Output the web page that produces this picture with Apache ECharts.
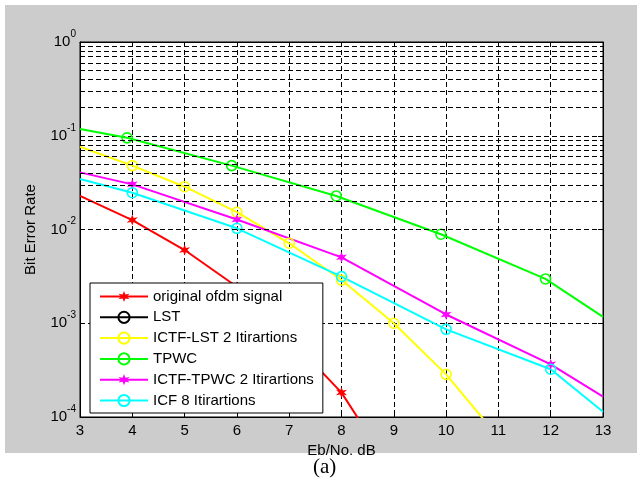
<!DOCTYPE html>
<html>
<head>
<meta charset="utf-8">
<script src="https://cdn.jsdelivr.net/npm/echarts@6/dist/echarts.min.js"></script>
<style>
  html, body { margin: 0; padding: 0; background: #fff; }
  #frame { position: absolute; left: 5px; top: 5px; width: 632px; height: 448px; background: #cccccc; }
  #main { position: absolute; left: 0; top: 0; width: 637px; height: 481px; }
</style>
</head>
<body>
<div id="frame"></div>
<div id="main"></div>
<script>
// BER curves (x = Eb/No in dB)
var origX = [3, 4, 5, 6, 7, 8, 9];
var origY = [0.0228, 0.0126, 0.00604, 0.00245, 0.0007, 0.000182, 0.000025];
var lstX = [];
var lstY = [];
var ictfLstX = [3, 4, 5, 6, 7, 8, 9, 10, 11];
var ictfLstY = [0.0764, 0.048, 0.0286, 0.0153, 0.00713, 0.00289, 0.001, 0.000285, 0.000061];
var tpwcX = [3, 3.9, 5.9, 7.9, 9.9, 11.9, 13];
var tpwcY = [0.118, 0.095, 0.048, 0.0228, 0.0089, 0.00297, 0.00117];
var ictfTpwcX = [3, 4, 6, 8, 10, 12, 13];
var ictfTpwcY = [0.0407, 0.0303, 0.0128, 0.00505, 0.00124, 0.000365, 0.000165];
var icfX = [3, 4, 6, 8, 10, 12, 13];
var icfY = [0.0346, 0.0247, 0.0103, 0.00314, 0.000861, 0.000323, 0.000114];

// minor log grid lines (2..9 per decade)
var minorGrid = [];
[1e-4, 1e-3, 1e-2, 1e-1].forEach(function (d) {
  for (var k = 2; k <= 9; k++) minorGrid.push(+(d * k).toPrecision(3));
});

var font = "Arial, 'Liberation Sans', sans-serif";
var dash = [5, 3];

// six point star, stands in for matlab's '*' marker
var star = (function () {
  var pts = [];
  for (var i = 0; i < 12; i++) {
    var r = i % 2 ? 0.42 : 1;
    var a = Math.PI / 6 * i - Math.PI / 2;
    pts.push((r * Math.cos(a)).toFixed(3) + ' ' + (r * Math.sin(a)).toFixed(3));
  }
  return 'path://M' + pts.join(' L') + ' Z';
})();

function points (xs, ys) {
  // no marker on the first point and on the last one
  return xs.map(function (x, i) {
    var item = { value: [x, ys[i]] };
    if (i === 0 || i === xs.length - 1) item.symbol = 'none';
    return item;
  });
}

function curve (name, color, xs, ys, marker) {
  var circle = marker === 'o';
  return {
    name: name,
    type: 'line',
    data: points(xs, ys),
    symbol: circle ? 'circle' : star,
    symbolSize: circle ? 10 : 11,
    lineStyle: { color: color, width: 2 },
    itemStyle: circle
      ? { color: 'rgba(255,255,255,0)', borderColor: color, borderWidth: 1.6 }
      : { color: color, borderWidth: 0 },
    z: 3
  };
}

var chart = echarts.init(document.getElementById('main'));

var option = {
  animation: false,
  textStyle: { fontFamily: font },
  grid: {
    left: 80, top: 42, width: 523, height: 375,
    show: true, backgroundColor: '#fff', borderColor: '#000', borderWidth: 1
  },
  legend: {
    orient: 'vertical',
    left: 90, top: 283,
    padding: [6, 9, 5, 9],
    itemWidth: 48, itemHeight: 14, itemGap: 5.8,
    backgroundColor: '#fff', borderColor: '#000', borderWidth: 1,
    selectedMode: false,
    textStyle: { fontSize: 15, color: '#000', fontFamily: font },
    data: ['original ofdm signal', 'LST', 'ICTF-LST 2 Itirartions', 'TPWC',
      'ICTF-TPWC 2 Itirartions', 'ICF 8 Itirartions']
  },
  xAxis: [
    {
      type: 'value', min: 3, max: 13, interval: 1,
      name: 'Eb/No. dB', nameLocation: 'middle', nameGap: 26,
      nameTextStyle: { fontSize: 15, color: '#000', fontFamily: font },
      axisLine: { lineStyle: { color: '#000', width: 1 } },
      axisTick: { inside: true, length: 5, lineStyle: { color: '#000' } },
      axisLabel: { fontSize: 15, color: '#000', margin: 6, fontFamily: font },
      splitLine: { show: true, lineStyle: { color: '#000', type: dash, width: 1 } }
    },
    {
      type: 'value', position: 'top', min: 3, max: 13, interval: 1,
      axisLine: { lineStyle: { color: '#000' } },
      axisTick: { inside: true, length: 5, lineStyle: { color: '#000' } },
      axisLabel: { show: false }, splitLine: { show: false }
    }
  ],
  yAxis: [
    {
      type: 'log', logBase: 10, min: 1e-4, max: 1,
      name: 'Bit Error Rate', nameLocation: 'middle', nameGap: 42,
      nameTextStyle: { fontSize: 15, color: '#000', fontFamily: font },
      axisLine: { lineStyle: { color: '#000', width: 1 } },
      axisTick: { inside: true, length: 5, lineStyle: { color: '#000' } },
      axisLabel: {
        margin: 4,
        formatter: function (v) {
          return '{b|10}{s|' + Math.round(Math.log10(v)) + '}';
        },
        rich: {
          b: { fontSize: 15, color: '#000', fontFamily: font },
          s: { fontSize: 10, color: '#000', fontFamily: font, padding: [0, 0, 16, 0] }
        }
      },
      splitLine: { show: true, lineStyle: { color: '#000', type: dash, width: 1 } }
    },
    {
      type: 'log', logBase: 10, min: 1e-4, max: 1, position: 'right',
      axisLine: { lineStyle: { color: '#000' } },
      axisTick: { inside: true, length: 5, lineStyle: { color: '#000' } },
      axisLabel: { show: false }, splitLine: { show: false }
    }
  ],
  graphic: [
    {
      type: 'text', left: 313, top: 457,
      style: { text: '(a)', fontSize: 21, fill: '#000', fontFamily: "'Liberation Serif', 'Times New Roman', serif" }
    }
  ],
  series: [
    {
      name: 'grid-minor', type: 'line', data: [], silent: true, z: 1,
      markLine: {
        silent: true, symbol: ['none', 'none'], animation: false,
        label: { show: false },
        lineStyle: { color: '#000', type: dash, width: 1 },
        data: minorGrid.map(function (v) { return { yAxis: v }; })
      }
    },
    curve('original ofdm signal', '#ff0000', origX, origY, '*'),
    curve('LST', '#000000', lstX, lstY, 'o'),
    curve('ICTF-LST 2 Itirartions', '#ffff00', ictfLstX, ictfLstY, 'o'),
    curve('TPWC', '#00ff00', tpwcX, tpwcY, 'o'),
    curve('ICTF-TPWC 2 Itirartions', '#ff00ff', ictfTpwcX, ictfTpwcY, '*'),
    curve('ICF 8 Itirartions', '#00ffff', icfX, icfY, 'o')
  ]
};

option && chart.setOption(option);
</script>
</body>
</html>
